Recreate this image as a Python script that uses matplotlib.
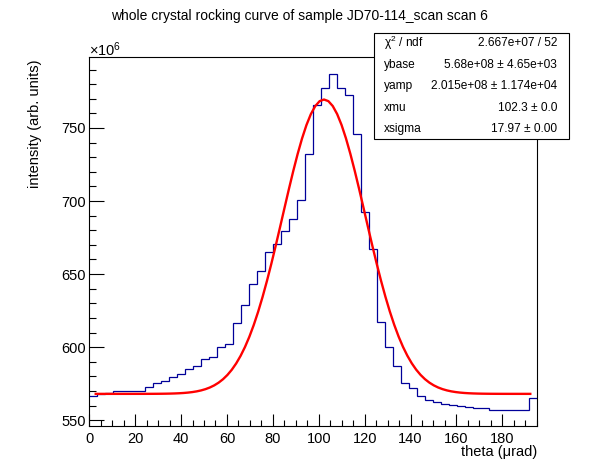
import numpy as np
import matplotlib
matplotlib.use('Agg')
import matplotlib.pyplot as plt
from matplotlib.patches import Rectangle
from matplotlib.ticker import MultipleLocator

plt.rcParams['font.family'] = ['Liberation Sans', 'DejaVu Sans']
plt.rcParams['mathtext.fontset'] = 'custom'
plt.rcParams['mathtext.rm'] = 'Liberation Sans'
plt.rcParams['mathtext.it'] = 'Liberation Sans:italic'

# histogram: 56 bins over theta 0 .. 195.3 urad, counts in units of 1e6
theta_min = 0.0
theta_max = 195.3
n_bins = 56
counts = [566.2, 567.7, 568.8, 569.7, 570.1, 569.7, 570.3, 572.4, 575.1, 577.1,
          579.8, 581.8, 585.1, 586.8, 591.6, 593.5, 599.8, 601.8, 616.2, 628.6,
          642.9, 652.1, 664.9, 670.3, 679.2, 687.5, 700.5, 732.0, 765.8, 777.2,
          786.8, 777.2, 772.6, 745.7, 692.3, 667.1, 617.3, 600.2, 587.2, 575.1,
          571.7, 566.4, 563.7, 562.1, 561.0, 560.1, 559.6, 558.9, 558.2, 558.2,
          557.3, 557.3, 557.3, 557.3, 557.3, 565.5]

# fit result (gaussian + base), shown in the stats box
ybase = 568.0
yamp = 201.5
xmu = 102.3
xsigma = 17.97
fit_lo, fit_hi = 2.8, 192.2

stat_names = ['\u03c7$^{2}$ / ndf', 'ybase', 'yamp', 'xmu', 'xsigma']
stat_values = ['2.667e+07 / 52', '5.68e+08 \u00b1 4.65e+03',
               '2.015e+08 \u00b1 1.174e+04', '102.3 \u00b1 0.0', '17.97 \u00b1 0.00']

W, H = 598, 474
fig = plt.figure(figsize=(W / 100, H / 100), dpi=100)
ax = fig.add_axes([89.3 / W, 1 - 426.3 / H, (537.4 - 89.3) / W, (426.3 - 56.7) / H])

edges = np.linspace(theta_min, theta_max, n_bins + 1)
ax.stairs(counts, edges, baseline=None, color='#000099', linewidth=0.9)

xf = np.linspace(fit_lo, fit_hi, 100)
yf = ybase + yamp * np.exp(-0.5 * ((xf - xmu) / xsigma) ** 2)
ax.plot(xf, yf, color='red', linewidth=1.7)

ax.set_xlim(theta_min, theta_max)
ax.set_ylim(545.8, 798.8)

ax.xaxis.set_major_locator(MultipleLocator(20))
ax.xaxis.set_minor_locator(MultipleLocator(5))
ax.yaxis.set_major_locator(MultipleLocator(50))
ax.yaxis.set_minor_locator(MultipleLocator(10))
ax.tick_params(axis='both', which='both', direction='in', top=False, right=False,
               width=0.8, labelsize=10.5)
ax.tick_params(axis='x', which='major', length=8.4, pad=3.9)
ax.tick_params(axis='x', which='minor', length=4.2)
ax.tick_params(axis='y', which='major', length=10.6, pad=2.4)
ax.tick_params(axis='y', which='minor', length=5.3)
for s in ax.spines.values():
    s.set_linewidth(0.8)

fig.text(299 / W, 1 - 16 / H, 'whole crystal rocking curve of sample JD70-114_scan scan 6',
         ha='center', va='center', fontsize=10)
fig.text(89.3 / W, 1 - 50 / H, r'$\times10^{6}$', ha='left', va='center', fontsize=10.5)
fig.text(35 / W, 1 - 60 / H, 'intensity (arb. units)', rotation=90,
         ha='center', va='top', fontsize=10.5)
fig.text(537.7 / W, 1 - 452 / H, 'theta (\u03bcrad)', ha='right', va='center', fontsize=10.5)

# stats box
bx0, bx1, by0, by1 = 374.3, 569.0, 33.3, 139.0
fig.add_artist(Rectangle((bx0 / W, 1 - by1 / H), (bx1 - bx0) / W, (by1 - by0) / H,
                         transform=fig.transFigure, facecolor='white',
                         edgecolor='black', linewidth=0.8, zorder=5))
for i, (name, val) in enumerate(zip(stat_names, stat_values)):
    yy = 1 - (43.3 + 21.5 * i) / H
    fig.text(384 / W, yy, name, ha='left', va='center', fontsize=8.6, zorder=6)
    fig.text(557.3 / W, yy, val, ha='right', va='center', fontsize=8.6, zorder=6)

fig.savefig('out.png', dpi=100)
